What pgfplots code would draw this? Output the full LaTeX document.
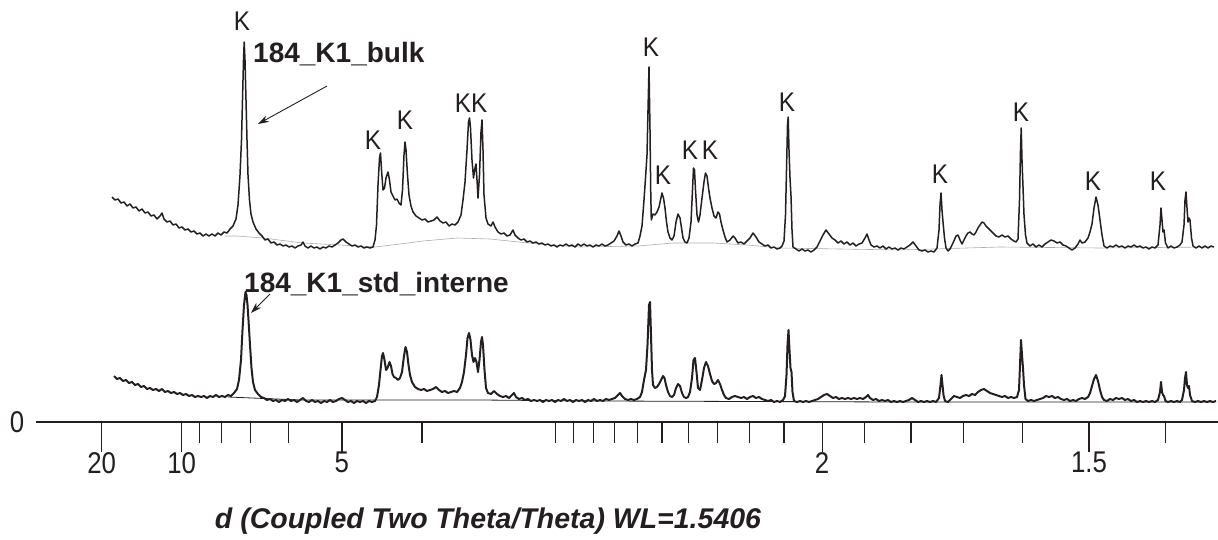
\documentclass[border=0pt]{standalone}
\usepackage{pgfplots}
\pgfplotsset{compat=1.18}
\usetikzlibrary{arrows.meta}
\usepackage{fontspec}
\setmainfont{Liberation Sans}
\newfontfamily\narrowfont[FakeStretch=0.86]{Liberation Sans}
\newfontfamily\kfont[FakeStretch=0.9]{Liberation Sans}
\definecolor{ink}{HTML}{231F20}
\begin{document}
\begin{tikzpicture}
\path[use as bounding box] (0,0) rectangle (1218pt,539pt);
\begin{axis}[
  at={(36pt,117pt)}, anchor=south west,
  scale only axis, width=1182pt, height=422pt,
  xmin=36, xmax=1218, ymin=0, ymax=422,
  axis x line=bottom, axis y line=none,
  x axis line style={-, line width=1.3pt, color=ink},
  xtick={101.7,181.75,341.85,822.15,1089.0},
  xticklabels={20,10,5,2,1.5},
  minor xtick={199.5,221.8,250.4,288.5,421.9,555.3,573.7,593.4,614.6,637.4,662.0,688.7,717.7,749.4,784.0,864.3,911.1,963.4,1022.3,1165.2},
  ytick=\empty,
  tick align=outside, major tick length=30pt, minor tick length=21pt,
  every tick/.style={ink, line width=1.3pt},
  xticklabel style={font=\narrowfont\fontsize{30}{30}\selectfont, text=ink, inner sep=0pt, anchor=north},
  clip=false,
]
% bulk background
\addplot[gray!65, line width=0.6pt] coordinates {(225,186)(237,186)(263,184)(303,179)(375,175)(400,178)(423,181)(457,184)(490,183)(538,178)(580,175)(638,176)(673,179)(713,179)(747,177)(780,174)(900,172)(1000,175)(1100,174)(1213,175)};
% std background
\addplot[ink, line width=0.8pt] coordinates {(228,25)(300,22)(480,22)(600,21)(900,20)(1215,20)};
% bulk
\addplot[ink, line width=1.5pt, line join=round] coordinates {
(112,225)(115,222)(118,223)(121,219)(124,220)(127,216)(130,218)(133,214)(136,215)(139,211)(142,213)(145,209)(148,210)(151,206)(154,207)(157,203)(160,206)(162,209)(164,203)(167,200)(170,201)(173,197)(176,198)(179,194)(182,195)(185,192)(188,193)(191,190)(194,191)(197,188)(200,189)(203,186)(206,188)(209,186)(212,188)(215,186)(218,189)(221,187)(224,190)(227,189)(230,193)(233,196)(236,203)(238,217)(240,247)(241.5,282)(242.5,322)(243.5,362)(244.2,380)(245,362)(246,322)(247,282)(248,247)(249.5,222)(251,208)(253,200)(256,193)(259,189)(262,186)(265,182)(268,183)(271,179)(274,180)(277,177)(280,178)(283,176)(286,177)(289,175)(292,176)(295,174)(298,176)(301,177)(303,180)(305,176)(308,174)(311,176)(314,174)(317,175)(320,173)(323,175)(326,174)(329,176)(332,175)(335,177)(338,179)(341,182)(343,183)(346,180)(349,178)(352,176)(355,177)(358,175)(361,176)(364,174)(367,175)(370,174)(373,175)(375,182)(376.5,197)(378,237)(379.5,264)(380.5,269)(381.5,252)(383,232)(384.5,234)(386,244)(388,250)(389.5,242)(391,230)(393,226)(395,222)(397,223)(399,219)(401,217)(402.5,232)(404,267)(405,280)(406,272)(407.5,247)(409,227)(411,216)(413,210)(416,206)(419,204)(422,202)(425,203)(428,200)(431,201)(434,202)(437,205)(440,201)(443,199)(446,200)(449,196)(452,198)(455,197)(458,200)(461,207)(463,222)(465,240)(467,272)(468.5,300)(469.5,304)(470.5,294)(472,262)(473.5,244)(475,254)(476,258)(477,242)(478,224)(479.5,247)(481,290)(482,302)(483,272)(484,227)(486,204)(488,198)(491,196)(493,200)(495,195)(498,190)(501,188)(504,189)(507,186)(510,187)(513,192)(515,187)(518,184)(521,182)(524,183)(527,180)(530,181)(533,179)(536,180)(539,178)(542,179)(545,177)(548,178)(551,176)(554,177)(557,175)(560,177)(563,176)(566,178)(569,176)(572,177)(575,175)(578,178)(581,176)(584,178)(587,176)(590,177)(593,175)(596,177)(599,176)(602,178)(605,176)(608,177)(611,179)(614,181)(617,186)(619,191)(621,186)(623,180)(626,177)(629,178)(632,176)(635,178)(638,179)(640,186)(642,196)(644,222)(645.5,244)(647,267)(648,312)(649,355)(650,292)(650.7,232)(651.3,202)(653,208)(655,207)(657,210)(659,215)(660.5,222)(662,229)(663.5,224)(665,214)(666.5,200)(668,190)(670,184)(672,182)(674,186)(676,200)(678,208)(680,204)(681.5,194)(683,184)(685,180)(687,179)(689,184)(691,200)(692.5,232)(693.5,254)(694.5,252)(695.5,232)(697,207)(698.5,200)(700,207)(702,224)(704,240)(705.5,249)(707,246)(708.5,234)(710,224)(712,214)(714,206)(716,204)(718,210)(719.5,208)(721,200)(723,192)(725,185)(727,180)(730,182)(733,186)(735,184)(738,179)(741,180)(744,178)(747,181)(750,184)(753,189)(756,185)(759,180)(762,178)(765,176)(768,177)(771,174)(774,175)(777,173)(780,174)(782,176)(784,181)(785.5,207)(786.5,252)(787.5,297)(788.2,305)(789,272)(790,244)(791,226)(792,192)(793,175)(796,173)(799,171)(802,173)(805,171)(808,172)(811,170)(814,172)(817,175)(820,181)(823,187)(826,192)(829,188)(832,184)(835,182)(838,179)(841,181)(844,178)(847,180)(850,177)(853,179)(856,176)(859,178)(862,179)(865,184)(867,188)(869,182)(871,177)(874,175)(877,176)(880,174)(883,176)(886,173)(889,175)(892,173)(895,174)(898,172)(901,174)(904,173)(907,175)(910,177)(913,180)(916,176)(919,172)(922,171)(925,172)(928,170)(931,171)(934,170)(937,174)(939,192)(940,217)(941,229)(942,212)(943,200)(944.5,184)(946,174)(948,171)(950,173)(953,179)(956,186)(958,187)(960,182)(962,178)(964,182)(966,186)(968,189)(970,190)(972,188)(974,187)(976,190)(978,194)(980,197)(982,200)(984,199)(986,196)(988,194)(990,192)(992,190)(994,188)(996,186)(999,185)(1002,187)(1005,185)(1008,186)(1011,183)(1014,181)(1016,180)(1018,183)(1019.5,222)(1020.5,272)(1021.2,294)(1022,262)(1023,235)(1024,207)(1025.5,187)(1027,179)(1030,176)(1033,178)(1036,175)(1039,177)(1042,175)(1045,178)(1048,180)(1051,182)(1054,181)(1057,179)(1060,180)(1063,177)(1066,176)(1069,174)(1072,172)(1075,174)(1078,178)(1080,182)(1082,179)(1085,180)(1088,184)(1090,190)(1092,198)(1094,214)(1096,225)(1098,217)(1100,202)(1102,187)(1104,176)(1107,174)(1110,176)(1113,175)(1116,177)(1119,175)(1122,176)(1125,174)(1128,176)(1131,175)(1134,177)(1137,175)(1140,176)(1143,174)(1146,175)(1149,173)(1152,175)(1155,174)(1158,177)(1160,197)(1161,214)(1162,202)(1163,190)(1164,192)(1165.5,179)(1168,174)(1171,176)(1174,174)(1177,175)(1180,177)(1182,180)(1184,197)(1185,222)(1186,230)(1187,214)(1188,200)(1189,204)(1190,202)(1191.5,184)(1193,176)(1196,174)(1199,176)(1202,174)(1205,176)(1208,174)(1211,176)(1214,175)};
% std interne
\addplot[ink, line width=2.0pt, line join=round] coordinates {
(114,46)(117,43)(120,44)(123,41)(126,42)(129,39)(132,40)(135,37)(138,38)(141,35)(144,36)(147,33)(150,34)(153,32)(156,33)(159,31)(162,33)(165,30)(168,31)(171,29)(174,30)(177,28)(180,29)(183,27)(186,28)(189,26)(192,27)(195,25)(198,26)(201,25)(204,26)(207,24)(210,26)(213,25)(216,27)(219,25)(222,26)(225,25)(228,27)(231,26)(234,29)(237,33)(239,42)(241,62)(242.5,92)(244,117)(245.5,130)(246.5,127)(247.5,117)(248.5,102)(250,77)(251.5,54)(253,40)(255,32)(258,28)(261,25)(264,24)(267,22)(270,23)(273,21)(276,22)(279,20)(282,22)(285,21)(288,23)(291,21)(294,22)(297,20)(300,22)(303,24)(306,21)(309,20)(312,22)(315,20)(318,21)(321,19)(324,21)(327,20)(330,22)(333,20)(336,21)(339,23)(342,24)(345,22)(348,20)(351,21)(354,19)(357,21)(360,20)(363,21)(366,19)(369,21)(372,20)(375,21)(377,25)(379,37)(380.5,52)(382,66)(383,69)(384.5,62)(386,52)(387.5,54)(389.5,60)(391,56)(392.5,48)(394,45)(396,44)(398,42)(400,44)(402,50)(404,66)(405.5,75)(407,70)(408.5,57)(410,47)(412,40)(415,35)(418,33)(421,32)(424,33)(427,31)(430,32)(433,33)(436,35)(439,32)(442,30)(445,31)(448,29)(451,30)(454,31)(457,30)(460,34)(462,40)(464,50)(466,67)(467.5,84)(469,89)(470.5,82)(472,67)(473.5,60)(475,64)(476.5,60)(478,50)(479.5,62)(481,80)(482,85)(483,77)(484.5,52)(486,34)(488,29)(491,28)(494,31)(497,28)(500,26)(503,25)(506,26)(509,24)(512,27)(514,29)(516,25)(519,23)(522,24)(525,22)(528,23)(531,21)(534,22)(537,21)(540,22)(543,20)(546,22)(549,21)(552,22)(555,20)(558,22)(561,21)(564,23)(567,21)(570,22)(573,20)(576,22)(579,21)(582,22)(585,20)(588,22)(591,21)(594,23)(597,21)(600,22)(603,21)(606,23)(609,22)(612,23)(615,24)(618,27)(620,29)(622,26)(625,23)(628,22)(631,23)(634,22)(637,23)(640,25)(642,30)(644,42)(646,52)(647.5,77)(649,117)(650,120)(651,87)(652,52)(653,37)(655,34)(657,35)(659,38)(661,42)(663,46)(664.5,44)(666,37)(668,30)(670,26)(672,25)(674,27)(676,34)(678,38)(680,36)(682,29)(684,25)(686,24)(688,25)(690,30)(692,44)(693.5,62)(695,64)(696.5,50)(698,34)(700,32)(702,42)(704,54)(706,60)(708,56)(710,48)(712,41)(714,38)(716,39)(718,42)(720,38)(722,32)(724,27)(726,24)(729,23)(732,25)(735,26)(738,25)(741,24)(744,25)(747,23)(750,25)(753,26)(756,24)(759,25)(762,23)(765,22)(768,21)(771,22)(774,20)(777,21)(780,20)(783,22)(785,26)(786.5,47)(787.5,77)(788.5,92)(789.5,72)(790.5,54)(791.5,50)(792.5,30)(794,21)(797,20)(800,21)(803,20)(806,21)(809,20)(812,21)(815,22)(818,23)(821,25)(824,27)(827,28)(830,26)(833,24)(836,25)(839,23)(842,24)(845,23)(848,24)(851,23)(854,24)(857,23)(860,24)(863,23)(866,25)(868,27)(870,24)(873,22)(876,23)(879,21)(882,22)(885,21)(888,22)(891,20)(894,21)(897,20)(900,21)(903,20)(906,21)(909,22)(912,24)(915,22)(918,20)(921,21)(924,20)(927,21)(930,20)(933,21)(936,20)(939,24)(940.5,37)(941.5,47)(942.5,37)(943.5,27)(945,21)(948,20)(951,23)(954,26)(957,25)(960,24)(963,26)(966,27)(969,26)(972,28)(975,27)(978,30)(981,32)(984,33)(987,31)(990,29)(993,28)(996,27)(999,26)(1002,25)(1005,26)(1008,24)(1011,25)(1014,24)(1017,25)(1019,32)(1020,57)(1021,82)(1022,67)(1023,54)(1024,37)(1025.5,23)(1028,21)(1031,22)(1034,21)(1037,22)(1040,23)(1043,24)(1046,26)(1049,25)(1052,26)(1055,24)(1058,25)(1061,23)(1064,22)(1067,23)(1070,21)(1073,22)(1076,21)(1079,23)(1082,24)(1085,23)(1088,25)(1090,29)(1092,36)(1094,43)(1096,47)(1098,41)(1100,32)(1102,25)(1104,22)(1107,21)(1110,23)(1113,22)(1116,24)(1119,23)(1122,24)(1125,22)(1128,23)(1131,21)(1134,22)(1137,20)(1140,21)(1143,20)(1146,21)(1149,20)(1152,21)(1155,20)(1158,22)(1160,30)(1161,40)(1162,30)(1163,27)(1164,26)(1165.5,21)(1168,20)(1171,21)(1174,20)(1177,21)(1180,20)(1182,22)(1184,32)(1185,44)(1186,50)(1187,37)(1188,34)(1189,36)(1190,27)(1192,21)(1195,20)(1198,21)(1201,20)(1204,21)(1207,20)(1210,21)(1213,20)(1216,21)};
% K labels
\begin{scope}[every node/.style={font=\kfont\fontsize{27}{27}\selectfont, text=ink, inner sep=0pt}]
\node at (axis cs:242,401) {K};
\node at (axis cs:373,282) {K};
\node at (axis cs:405,302) {K};
\node at (axis cs:471,319) {KK};
\node at (axis cs:651,375) {K};
\node at (axis cs:663,247) {K};
\node at (axis cs:690,272) {K};
\node at (axis cs:710,272) {K};
\node at (axis cs:787,320) {K};
\node at (axis cs:940,248) {K};
\node at (axis cs:1021,310) {K};
\node at (axis cs:1093,241) {K};
\node at (axis cs:1158,241) {K};
\end{scope}
% sample labels
\node[anchor=base west, inner sep=0pt, font=\bfseries\fontsize{28}{28}\selectfont, text=ink] at (axis cs:253,359) {184\_K1\_bulk};
\draw[-{Stealth[length=11pt,width=7pt]}, line width=0.9pt, ink] (axis cs:327,336) -- (axis cs:258,298);
\node[anchor=base west, inner sep=0pt, font=\bfseries\fontsize{28}{28}\selectfont, text=ink] at (axis cs:244,130) {184\_K1\_std\_interne};
\draw[-{Stealth[length=11pt,width=7pt]}, line width=0.9pt, ink] (axis cs:270,128) -- (axis cs:251,109);
% axis zero and title
\node[font=\narrowfont\fontsize{30}{30}\selectfont, text=ink] at (axis cs:17,0) {0};
\node[font=\bfseries\itshape\fontsize{28.5}{30}\selectfont, text=ink] at (axis cs:488,-99) {d (Coupled Two Theta/Theta) WL=1.5406};
\end{axis}
\end{tikzpicture}
\end{document}
